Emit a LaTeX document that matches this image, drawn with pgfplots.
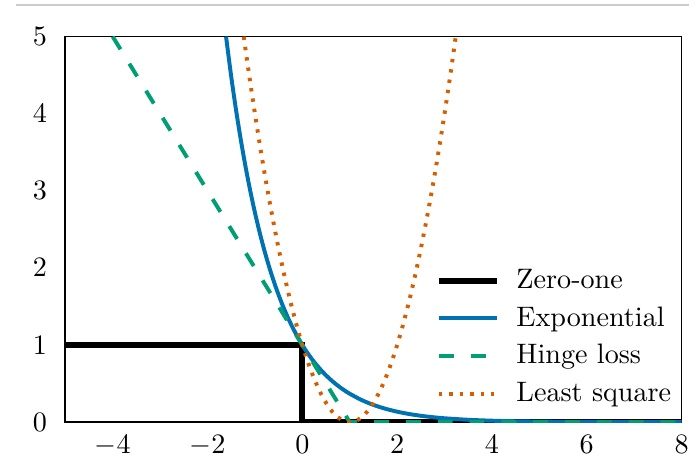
\documentclass[border=0pt]{standalone}
\usepackage{pgfplots}
\pgfplotsset{compat=1.18}
\definecolor{cbblue}{HTML}{0072B2}
\definecolor{cbgreen}{HTML}{009E73}
\definecolor{cborange}{HTML}{D55E00}
\begin{document}
\begin{tikzpicture}
  \begin{axis}[
    name=ax,
    scale only axis,
    width=219pt, height=137pt,
    xmin=-5, xmax=8,
    ymin=0, ymax=5,
    xtick={-4,-2,0,2,4,6,8},
    ytick={0,1,2,3,4,5},
    major tick length=0pt,
    axis line style={line width=0.6pt},
    yticklabel style={xshift=-3pt},
    xticklabel style={yshift=-1pt},
    legend cell align=left,
    legend style={at={(rel axis cs:0.587,0.012)}, anchor=south west,
      draw=none, fill=none, row sep=1pt},
    legend image code/.code={\draw[#1] (0cm,0cm) -- (0.72cm,0cm); \path (0.86cm,0cm);},
  ]
    % Zero-one loss
    \addplot[black, line width=2.1pt] coordinates {
      (-5,1) (0,1) (0,0) (8,0)
    };
    \addlegendentry{Zero-one}
    % Exponential loss
    \addplot[cbblue, line width=1.4pt, smooth] coordinates {
      (-1.609,5.0) (-1.5,4.4817) (-1.4,4.0552) (-1.3,3.6693) (-1.2,3.3201)
      (-1.1,3.0042) (-1.0,2.7183) (-0.9,2.4596) (-0.8,2.2255) (-0.7,2.0138)
      (-0.6,1.8221) (-0.5,1.6487) (-0.4,1.4918) (-0.3,1.3499) (-0.2,1.2214)
      (-0.1,1.1052) (0,1) (0.1,0.9048) (0.2,0.8187) (0.3,0.7408)
      (0.4,0.6703) (0.5,0.6065) (0.6,0.5488) (0.7,0.4966) (0.8,0.4493)
      (0.9,0.4066) (1.0,0.3679) (1.25,0.2865) (1.5,0.2231) (1.75,0.1738)
      (2.0,0.1353) (2.25,0.1054) (2.5,0.0821) (2.75,0.0639) (3.0,0.0498)
      (3.5,0.0302) (4.0,0.0183) (4.5,0.0111) (5.0,0.0067) (5.5,0.0041)
      (6.0,0.0025) (7.0,0.0009) (8.0,0.0003)
    };
    \addlegendentry{Exponential}
    % Hinge loss
    \addplot[cbgreen, line width=1.4pt, dash pattern=on 5.3pt off 6pt] coordinates {
      (-4,5) (1,0) (8,0)
    };
    \addlegendentry{Hinge loss}
    % Least square loss
    \addplot[cborange, line width=1.4pt, dash pattern=on 1.2pt off 2.5pt, smooth] coordinates {
      (-1.236,5.0) (-1.125,4.5156) (-1.0,4) (-0.875,3.5156) (-0.75,3.0625)
      (-0.625,2.6406) (-0.5,2.25) (-0.375,1.8906) (-0.25,1.5625) (-0.125,1.2656)
      (0,1) (0.125,0.7656) (0.25,0.5625) (0.375,0.3906) (0.5,0.25)
      (0.625,0.1406) (0.75,0.0625) (0.875,0.0156) (1,0) (1.125,0.0156)
      (1.25,0.0625) (1.375,0.1406) (1.5,0.25) (1.625,0.3906) (1.75,0.5625)
      (1.875,0.7656) (2,1) (2.125,1.2656) (2.25,1.5625) (2.375,1.8906)
      (2.5,2.25) (2.625,2.6406) (2.75,3.0625) (2.875,3.5156) (3,4)
      (3.125,4.5156) (3.236,5.0)
    };
    \addlegendentry{Least square}
  \end{axis}
  % thin rule above the chart and page extent
  \draw[black!20, line width=0.4pt] ([xshift=-17.5pt, yshift=11.2pt]ax.north west) -- ([xshift=2.8pt, yshift=11.2pt]ax.north east);
  \path ([xshift=-23.2pt, yshift=-14pt]ax.south west) rectangle ([xshift=2.8pt, yshift=13pt]ax.north east);
\end{tikzpicture}
\end{document}
